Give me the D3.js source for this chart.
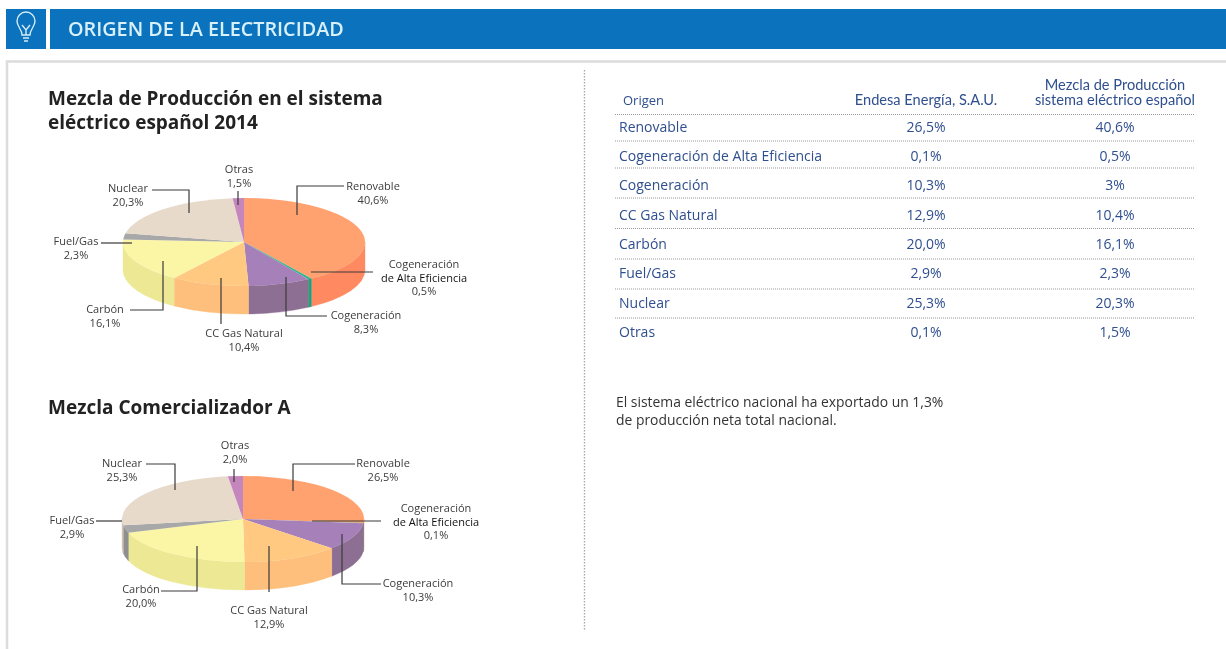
<!DOCTYPE html>
<html>
<head>
<meta charset="utf-8">
<script src="https://cdn.jsdelivr.net/npm/d3@7"></script>
<style>
  html, body { margin: 0; padding: 0; background: #fff; overflow: hidden; }
  text { font-family: "Open Sans", "Noto Sans", sans-serif; }
  /* the reference is a soft scan, take the edge off */
  #chart { filter: blur(0.4px); }
</style>
</head>
<body>
<svg id="chart" width="1226" height="649"></svg>
<script>
// Data
const sources = ["Renovable", "Cogeneración de Alta Eficiencia", "Cogeneración", "CC Gas Natural", "Carbón", "Fuel/Gas", "Nuclear", "Otras"];
const endesaValues = [26.5, 0.1, 10.3, 12.9, 20.0, 2.9, 25.3, 2.0];
const sistemaValues = [40.6, 0.5, 8.3, 10.4, 16.1, 2.3, 20.3, 1.5];
const tableEndesa = ["26,5%", "0,1%", "10,3%", "12,9%", "20,0%", "2,9%", "25,3%", "0,1%"];
const tableSistema = ["40,6%", "0,5%", "3%", "10,4%", "16,1%", "2,3%", "20,3%", "1,5%"];

const topColors = ["#ffa26f", "#2fb58c", "#a680b8", "#ffc981", "#fbf6a6", "#a8a8a8", "#e8dacb", "#c486bd"];
const sideColors = ["#ff8a62", "#22a07a", "#8e6f94", "#ffbf7c", "#ece894", "#8f8f8f", "#cfc2b4", "#a871a2"];

const svg = d3.select("#chart");
const fmt = v => v.toFixed(1).replace(".", ",") + "%";

// Header band
svg.append("rect").attr("x", 6).attr("y", 9).attr("width", 40).attr("height", 40).attr("fill", "#0b72bd");
svg.append("rect").attr("x", 50).attr("y", 9).attr("width", 1176).attr("height", 40).attr("fill", "#0b72bd");
svg.append("text").attr("x", 68).attr("y", 35.5).attr("fill", "#d8f0fa")
    .style("font-size", "19.8px").style("font-weight", 600).text("ORIGEN DE LA ELECTRICIDAD");

// Light bulb icon
const bulb = svg.append("g").attr("fill", "none").attr("stroke", "#d5ecf7").attr("stroke-width", 1.4);
bulb.append("path").attr("d", "M22 35 C22 29 17 27 17 21 A9 9 0 0 1 35 21 C35 27 30 29 30 35 Z");
bulb.append("path").attr("d", "M22 25 L26 30 L30 25 M26 30 V35 M23 38 H29 M24 41 H28");

// Frame
svg.append("path").attr("d", "M7 649 V61.5 H1226").attr("fill", "none").attr("stroke", "#dcdcdc").attr("stroke-width", 2.5);
svg.append("line").attr("x1", 584.5).attr("x2", 584.5).attr("y1", 70).attr("y2", 630)
    .attr("stroke", "#aaa").attr("stroke-width", 1.4).attr("stroke-dasharray", "1.5 1.5");

// Titles
function title(lines, x, y) {
  const t = svg.append("text").attr("fill", "#222").style("font-size", "19px").style("font-weight", 700);
  lines.forEach((s, i) => t.append("tspan").attr("x", x).attr("y", y + i * 24).text(s));
}
title(["Mezcla de Producción en el sistema", "eléctrico español 2014"], 48, 105);
title(["Mezcla Comercializador A"], 48, 414);

// Flattened 3D pie, d3.pie gives the angles (0 = top, clockwise)
function pie3d(values, cx, cy, rx, ry, depth) {
  const g = svg.append("g").attr("transform", `translate(${cx},${cy})`);
  const arcs = d3.pie().sort(null)(values);
  const px = a => rx * Math.sin(a), py = a => -ry * Math.cos(a);
  // only the front half of the wall shows (angles between 90 and 270 degrees)
  arcs.forEach((d, i) => {
    const a0 = Math.max(d.startAngle, Math.PI / 2), a1 = Math.min(d.endAngle, 3 * Math.PI / 2);
    if (a1 <= a0) return;
    const path = `M${px(a0)},${py(a0)} A${rx},${ry} 0 0 1 ${px(a1)},${py(a1)}` +
      ` L${px(a1)},${py(a1) + depth} A${rx},${ry} 0 0 0 ${px(a0)},${py(a0) + depth} Z`;
    g.append("path").attr("d", path).attr("fill", sideColors[i]).attr("stroke", sideColors[i]).attr("stroke-width", 0.4);
  });
  const arc = d3.arc().innerRadius(0).outerRadius(rx);
  g.append("g").attr("transform", `scale(1,${ry / rx})`)
    .selectAll("path").data(arcs).join("path")
    .attr("d", arc).attr("fill", (d, i) => topColors[i]);
}
pie3d(sistemaValues, 244, 242, 121, 44, 28);
pie3d(endesaValues, 243, 519, 121, 43, 28);

// Leader lines and labels (layout only, the percentages come from the value arrays)
const leaders1 = [
  "M297 215 V186 H344", "M311 272 H373", "M286 277 V316 H327", "M221 278 V324", "M163 261 V310 H130",
  "M132 243 H101", "M189 213 V190 H152", "M238 205 V191"
];
const labels1 = [
  {x: 373, y: 190, lines: ["Renovable"]},
  {x: 424, y: 268, lines: ["Cogeneración", "de Alta Eficiencia"]},
  {x: 366, y: 319, lines: ["Cogeneración"]},
  {x: 244, y: 337, lines: ["CC Gas Natural"]},
  {x: 105, y: 313, lines: ["Carbón"]},
  {x: 76, y: 245, lines: ["Fuel/Gas"]},
  {x: 128, y: 192, lines: ["Nuclear"]},
  {x: 239, y: 173, lines: ["Otras"]}
];
const leaders2 = [
  "M293 491 V464 H355", "M312 521 H381", "M342 534 V584 H381", "M269 546 V592", "M197 546 V591 H161",
  "M122 521 H96", "M175 490 V464 H146", "M234 482 V469"
];
const labels2 = [
  {x: 383, y: 467, lines: ["Renovable"]},
  {x: 436, y: 512, lines: ["Cogeneración", "de Alta Eficiencia"]},
  {x: 418, y: 587, lines: ["Cogeneración"]},
  {x: 269, y: 614, lines: ["CC Gas Natural"]},
  {x: 141, y: 593, lines: ["Carbón"]},
  {x: 72, y: 524, lines: ["Fuel/Gas"]},
  {x: 122, y: 467, lines: ["Nuclear"]},
  {x: 235, y: 449, lines: ["Otras"]}
];

function callouts(leaders, labels, values) {
  svg.append("g").selectAll("path").data(leaders).join("path")
    .attr("d", d => d).attr("fill", "none").attr("stroke", "#3a3a3a").attr("stroke-width", 1.2);
  labels.forEach((d, i) => {
    const t = svg.append("text").attr("text-anchor", "middle").attr("fill", "#3c3c3c").style("font-size", "11px");
    d.lines.concat(fmt(values[i])).forEach((s, k) => {
      t.append("tspan").attr("x", d.x).attr("y", d.y + k * 13.5).text(s)
        .style("fill", i === 1 && k === 1 ? "#111" : null);
    });
  });
}
callouts(leaders1, labels1, sistemaValues);
callouts(leaders2, labels2, endesaValues);

// Table
const tableBlue = "#2f4f8f";
const rowY = d3.scalePoint().domain(sources).range([131.5, 337]);
const colX = { origen: 619, endesa: 926, sistema: 1115 };
const ruleY = [114.5, 141, 168, 198, 228.5, 259, 289, 318];

svg.append("text").attr("x", 623).attr("y", 105).attr("fill", tableBlue).style("font-size", "13px").text("Origen");
svg.append("text").attr("x", colX.endesa).attr("y", 105).attr("text-anchor", "middle").attr("fill", tableBlue)
    .style("font-family", "Lato").style("font-size", "14.6px").text("Endesa Energía, S.A.U.");
const head = svg.append("text").attr("text-anchor", "middle").attr("fill", tableBlue)
    .style("font-family", "Lato").style("font-size", "14.6px");
head.append("tspan").attr("x", colX.sistema).attr("y", 90).text("Mezcla de Producción");
head.append("tspan").attr("x", colX.sistema).attr("y", 105).text("sistema eléctrico español");

svg.append("g").selectAll("line").data(ruleY).join("line")
    .attr("x1", 615).attr("x2", 1195).attr("y1", d => d).attr("y2", d => d)
    .attr("stroke", "#999").attr("stroke-width", 1.2).attr("stroke-dasharray", "1 1");

const rows = svg.append("g").attr("fill", tableBlue).style("font-size", "14px");
rows.selectAll(".src").data(sources).join("text").attr("class", "src")
    .attr("x", colX.origen).attr("y", d => rowY(d)).text(d => d);
rows.selectAll(".end").data(tableEndesa).join("text").attr("class", "end").attr("text-anchor", "middle")
    .attr("x", colX.endesa).attr("y", (d, i) => rowY(sources[i])).text(d => d);
rows.selectAll(".sis").data(tableSistema).join("text").attr("class", "sis").attr("text-anchor", "middle")
    .attr("x", colX.sistema).attr("y", (d, i) => rowY(sources[i])).text(d => d);

// Note under the table
const note = svg.append("text").attr("fill", "#333").style("font-size", "13.9px");
note.append("tspan").attr("x", 616).attr("y", 407).text("El sistema eléctrico nacional ha exportado un 1,3%");
note.append("tspan").attr("x", 616).attr("y", 425).text("de producción neta total nacional.");
</script>
</body>
</html>
